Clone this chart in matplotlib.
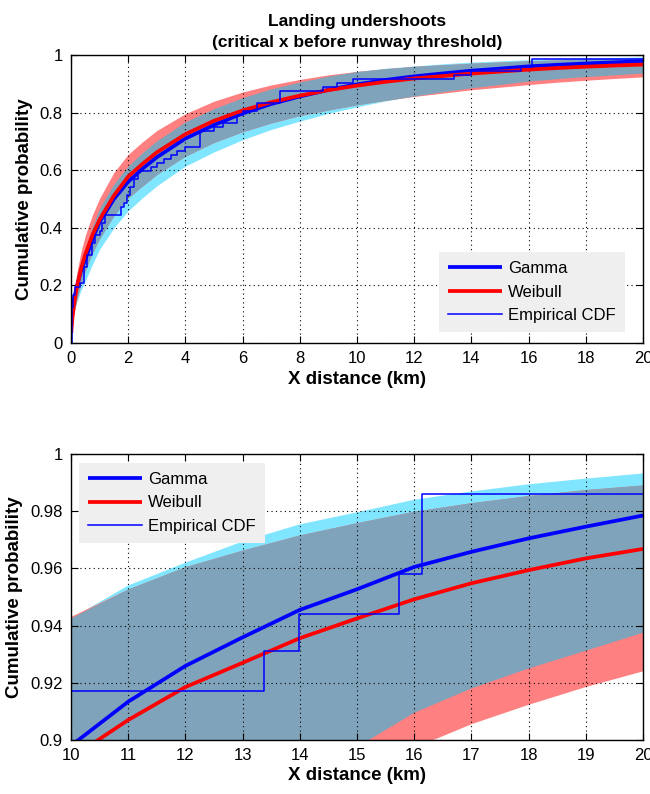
import numpy as np
import matplotlib
matplotlib.use('Agg')
import matplotlib.pyplot as plt

plt.rcParams['font.family'] = ['Liberation Sans', 'DejaVu Sans']

# ---------------- data ----------------
X = [0.01, 0.02, 0.05, 0.1, 0.2, 0.35, 0.5, 0.75, 1, 1.5, 2, 2.5, 3, 4, 5, 6, 7, 8, 9,
     10, 11, 12, 13, 14, 15, 16, 17, 18, 19, 20]

GAMMA = [0.06, 0.08, 0.115, 0.15, 0.195, 0.25, 0.29, 0.36, 0.42, 0.50, 0.56, 0.605, 0.645,
         0.71, 0.757, 0.797, 0.83, 0.856, 0.879, 0.898, 0.9134, 0.9259, 0.9359, 0.9455,
         0.9527, 0.9605, 0.9658, 0.9705, 0.9746, 0.9785]
GAMMA_HI = [0.0687, 0.0915, 0.1311, 0.1705, 0.2208, 0.2825, 0.327, 0.4033, 0.468, 0.5523,
            0.6147, 0.6613, 0.7019, 0.7681, 0.8140, 0.8518, 0.8827, 0.9062, 0.9265, 0.9425,
            0.954, 0.962, 0.9694, 0.9754, 0.9796, 0.984, 0.9869, 0.9894, 0.9914, 0.9932]
GAMMA_LO = [0.0407, 0.0549, 0.0802, 0.1062, 0.1404, 0.1835, 0.2154, 0.2733, 0.3254, 0.40,
            0.459, 0.5045, 0.5457, 0.6143, 0.6633, 0.7058, 0.7415, 0.7705, 0.7974, 0.8201,
            0.8405, 0.8578, 0.8725, 0.8862, 0.8975, 0.9095, 0.918, 0.925, 0.9312, 0.9375]

WEIBULL = [0.0342, 0.0515, 0.0877, 0.130, 0.191, 0.257, 0.308, 0.375, 0.4286, 0.512, 0.578,
           0.622, 0.662, 0.725, 0.7715, 0.8074, 0.836, 0.859, 0.878, 0.8937, 0.907, 0.9185,
           0.927, 0.9356, 0.9425, 0.9492, 0.9548, 0.9594, 0.9635, 0.9668]
WEIBULL_HI = [0.0459, 0.0689, 0.1165, 0.172, 0.2424, 0.317, 0.3737, 0.4449, 0.502, 0.5923,
              0.655, 0.6985, 0.7377, 0.7963, 0.8396, 0.8715, 0.8961, 0.9151, 0.9311, 0.943,
              0.9526, 0.9604, 0.9662, 0.9715, 0.9758, 0.9798, 0.9828, 0.9853, 0.9874, 0.9890]
WEIBULL_LO = [0.0255, 0.0384, 0.0657, 0.0983, 0.1494, 0.2064, 0.2514, 0.3129, 0.3618, 0.442,
              0.5031, 0.5451, 0.585, 0.6486, 0.696, 0.7334, 0.7639, 0.7893, 0.8089, 0.827,
              0.8427, 0.8561, 0.8676, 0.8793, 0.8882, 0.8972, 0.9055, 0.9123, 0.9185, 0.9240]

ECDF_X = [0.02, 0.02, 0.06, 0.15, 0.3, 0.45, 0.55, 0.75, 0.85, 1.0, 1.1, 1.2, 1.75, 1.85,
          1.95, 2.05, 2.2, 2.35, 2.8, 3.0, 3.25, 3.5, 3.7, 4.0, 4.5, 5.0, 5.3, 5.8, 6.0, 6.5,
          7.3, 8.8, 9.3, 9.87, 13.38, 13.98, 15.73, 16.13, 20.5]
ECDF_Y = [0.0, 0.125, 0.167, 0.194, 0.208, 0.264, 0.306, 0.347, 0.375, 0.389, 0.417, 0.444,
          0.472, 0.486, 0.514, 0.542, 0.569, 0.597, 0.611, 0.625, 0.639, 0.653, 0.667, 0.681,
          0.736, 0.750, 0.764, 0.792, 0.806, 0.833, 0.875, 0.889, 0.903, 0.917, 0.931, 0.944,
          0.958, 0.986, 0.986]

TOP_XTICKS = [0, 2, 4, 6, 8, 10, 12, 14, 16, 18, 20]
TOP_YTICKS = [0, 0.2, 0.4, 0.6, 0.8, 1]
TOP_YLABELS = ['0', '0.2', '0.4', '0.6', '0.8', '1']
BOT_XTICKS = [10, 11, 12, 13, 14, 15, 16, 17, 18, 19, 20]
BOT_YTICKS = [0.9, 0.92, 0.94, 0.96, 0.98, 1]
BOT_YLABELS = ['0.9', '0.92', '0.94', '0.96', '0.98', '1']

TITLE = 'Landing undershoots\n(critical x before runway threshold)'
XLABEL = 'X distance (km)'
YLABEL = 'Cumulative probability'

CYAN = '#80E6FF'
PINK = '#FF8080'
OVERLAP = '#7EA3BA'

# ---------------- figure ----------------
fig = plt.figure(figsize=(6.5, 7.94), dpi=100)
ax1 = fig.add_axes([71/650, 1-343/794, 572/650, 288/794])
ax2 = fig.add_axes([71/650, 1-740/794, 572/650, 286/794])

x = np.array(X)
g_lo, g_hi = np.array(GAMMA_LO), np.array(GAMMA_HI)
w_lo, w_hi = np.array(WEIBULL_LO), np.array(WEIBULL_HI)


def draw(ax):
    ax.fill_between(x, g_lo, g_hi, color=CYAN, lw=0, zorder=1)
    ax.fill_between(x, w_lo, w_hi, color=PINK, lw=0, zorder=1.1)
    lo = np.maximum(g_lo, w_lo)
    hi = np.minimum(g_hi, w_hi)
    ax.fill_between(x, lo, hi, where=hi >= lo, interpolate=True, color=OVERLAP, lw=0, zorder=1.2)
    ax.plot(x, GAMMA, color='#0000FF', lw=2.7, zorder=3, label='Gamma', solid_capstyle='butt')
    ax.plot(x, WEIBULL, color='#FF0000', lw=2.7, zorder=3.1, label='Weibull', solid_capstyle='butt')
    ax.step(ECDF_X, ECDF_Y, where='post', color='#0000FF', lw=1.1, zorder=3.2,
            label='Empirical CDF')
    ax.set_axisbelow(False)
    ax.grid(True, linestyle=(0, (1, 3)), color='k', lw=0.8)
    ax.tick_params(direction='in', top=True, right=True, length=5, width=0.8,
                   labelsize=12, pad=6)
    for s in ax.spines.values():
        s.set_linewidth(1.0)
        s.set_zorder(5)
    ax.set_xlabel(XLABEL, fontweight='bold', fontsize=13.5, labelpad=3)
    ax.set_ylabel(YLABEL, fontweight='bold', fontsize=13.5, labelpad=5)


def style_legend(leg):
    fr = leg.get_frame()
    fr.set_facecolor('#EFEFEF')
    fr.set_edgecolor('none')
    fr.set_alpha(1)


draw(ax1)
ax1.set_xlim(0, 20)
ax1.set_ylim(0, 1)
ax1.set_xticks(TOP_XTICKS)
ax1.set_yticks(TOP_YTICKS)
ax1.set_yticklabels(TOP_YLABELS)
ax1.set_title(TITLE, fontweight='bold', fontsize=12.5, pad=6, linespacing=1.45)
leg1 = ax1.legend(loc='lower right', bbox_to_anchor=(0.9685, 0.038), fontsize=12,
                  handlelength=3.2, handletextpad=0.4, labelspacing=0.5,
                  borderpad=0.55, borderaxespad=0, fancybox=False, framealpha=1)
style_legend(leg1)

draw(ax2)
ax2.set_xlim(10, 20)
ax2.set_ylim(0.9, 1)
ax2.set_xticks(BOT_XTICKS)
ax2.set_yticks(BOT_YTICKS)
ax2.set_yticklabels(BOT_YLABELS)
leg2 = ax2.legend(loc='upper left', bbox_to_anchor=(0.014, 0.969), fontsize=12,
                  handlelength=3.2, handletextpad=0.4, labelspacing=0.5,
                  borderpad=0.55, borderaxespad=0, fancybox=False, framealpha=1)
style_legend(leg2)

fig.savefig('out.png', dpi=100)
